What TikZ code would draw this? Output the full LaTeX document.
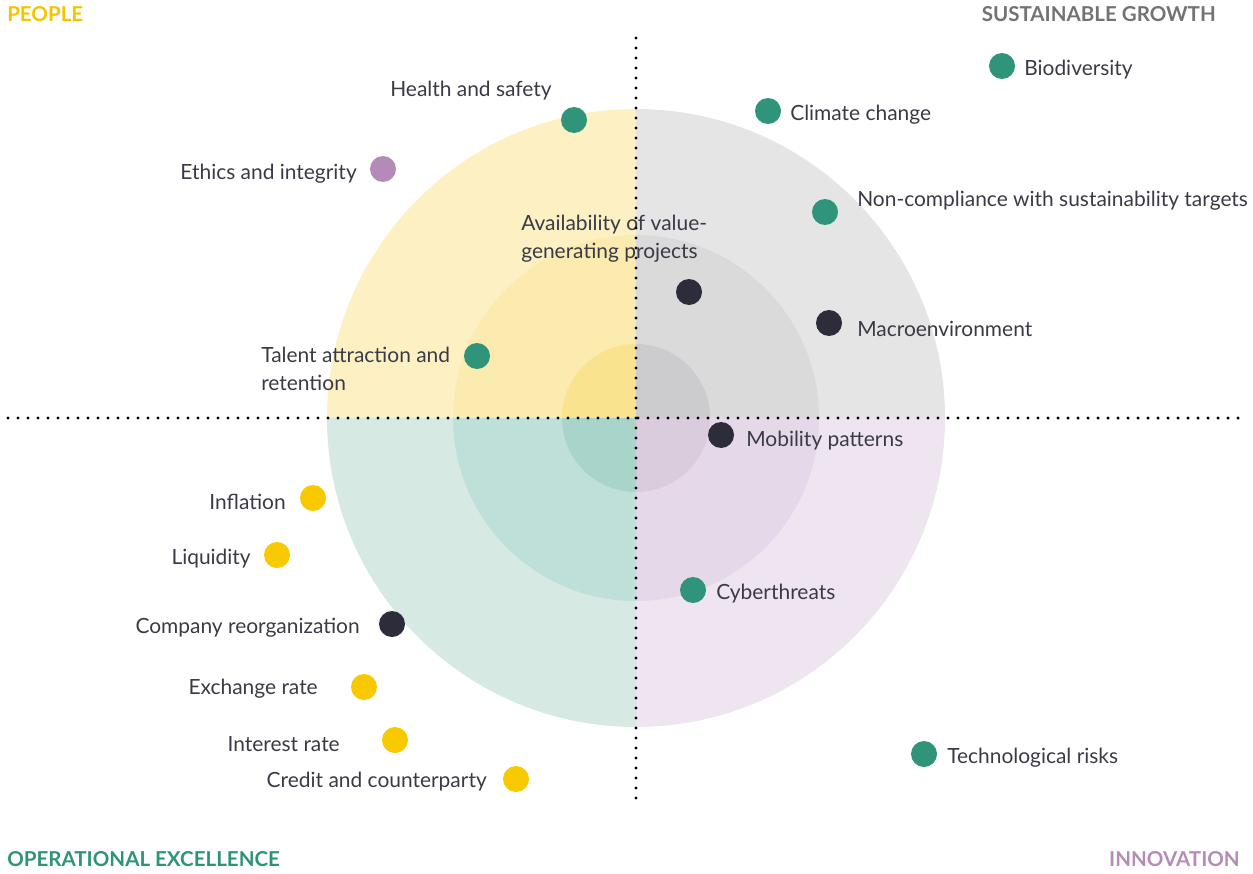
\documentclass[tikz,border=0pt]{standalone}
\usepackage{fontspec}
\setmainfont{Lato}
\usetikzlibrary{positioning}
\definecolor{ytxt}{HTML}{F5C400}
\definecolor{gtxt}{HTML}{737373}
\definecolor{ttxt}{HTML}{2E9478}
\definecolor{ptxt}{HTML}{B48CB8}
\definecolor{dtxt}{HTML}{3A3A46}
\definecolor{dteal}{HTML}{2F9479}
\definecolor{ddark}{HTML}{2C2C3A}
\definecolor{dyel}{HTML}{F8C800}
\definecolor{dpur}{HTML}{B38AB8}
\definecolor{y1}{HTML}{FDF1C4}
\definecolor{y2}{HTML}{FCEBAE}
\definecolor{y3}{HTML}{FAE38E}
\definecolor{g1}{HTML}{E5E5E5}
\definecolor{g2}{HTML}{DADADA}
\definecolor{g3}{HTML}{CCCCCF}
\definecolor{t1}{HTML}{D6EAE3}
\definecolor{t2}{HTML}{BFE0D8}
\definecolor{t3}{HTML}{A8D4C9}
\definecolor{p1}{HTML}{EEE5F0}
\definecolor{p2}{HTML}{E5D8E8}
\definecolor{p3}{HTML}{DACBDD}
\tikzset{
  dot/.style={circle,inner sep=0pt,minimum size=19.5pt},
  lbl/.style={text=dtxt,font=\fontsize{15.7}{21}\selectfont,inner sep=0pt,yshift=-1.2pt},
  corner/.style={font=\fontsize{15.4}{18}\selectfont\bfseries,inner sep=0pt},
  dotline/.style={line width=2.6pt,line cap=round,dash pattern=on 0pt off 7.5pt,draw=black}
}
\begin{document}
\begin{tikzpicture}[x=0.75pt,y=-0.75pt]
\useasboundingbox (0,0) rectangle (1253,874);
\coordinate (c) at (636,418);
% quadrants
\foreach \qx/\qy/\a/\b/\cc in {-1/-1/y1/y2/y3, 1/-1/g1/g2/g3, -1/1/t1/t2/t3, 1/1/p1/p2/p3}{
  \begin{scope}
    \clip (c) rectangle ++(\qx*320,\qy*320);
    \fill[\a] (c) circle[radius=309];
    \fill[\b] (c) circle[radius=183];
    \fill[\cc] (c) circle[radius=74];
  \end{scope}
}
% corner labels
\node[corner,text=ytxt,anchor=west] (people) at (7,14) {PEOPLE};
\node[corner,text=gtxt,anchor=east] (sg) at (1216,14) {SUSTAINABLE GROWTH};
\node[corner,text=ttxt,anchor=west] (oe) at (7,859) {OPERATIONAL EXCELLENCE};
\node[corner,text=ptxt,anchor=east] (inn) at (1240,859) {INNOVATION};
% dots and labels
\node[dot,fill=dteal] (bio) at (1002,66) {};
\node[lbl,anchor=west] (biot) at (1024,68) {Biodiversity};
\node[dot,fill=dteal] (cli) at (768,111) {};
\node[lbl,anchor=west] (clit) at (790,113) {Climate change};
\node[dot,fill=dteal] (hs) at (574,120) {};
\node[lbl,anchor=west] (hst) at (390,89) {Health and safety};
\node[dot,fill=dpur] (eth) at (383,169) {};
\node[lbl,anchor=east] (etht) at (357,172) {Ethics and integrity};
\node[dot,fill=dteal] (nc) at (825,212) {};
\node[lbl,anchor=west] (nct) at (857,199) {Non-compliance with sustainability targets};
\node[lbl,anchor=west,align=left] (avt) at (521,237) {Availability of value-\\generating projects};
\node[dot,fill=ddark] (av) at (689,292) {};
\node[dot,fill=ddark] (mac) at (829,323) {};
\node[lbl,anchor=west] (mact) at (857,327) {Macroenvironment};
\node[dot,fill=dteal] (tal) at (477,356) {};
\node[lbl,anchor=west,align=left] (talt) at (261,367) {Talent attraction and\\retention};
\node[dot,fill=ddark] (mob) at (721,435) {};
\node[lbl,anchor=west] (mobt) at (746,439) {Mobility patterns};
\node[dot,fill=dyel] (inf) at (313,498) {};
\node[lbl,anchor=east] (inft) at (286,500) {Inflation};
\node[dot,fill=dyel] (liq) at (277,555) {};
\node[lbl,anchor=east] (liqt) at (251,557) {Liquidity};
\node[dot,fill=ddark] (cr) at (392,624) {};
\node[lbl,anchor=east] (crt) at (360,626) {Company reorganization};
\node[dot,fill=dteal] (cy) at (693,590) {};
\node[lbl,anchor=west] (cyt) at (716,592) {Cyberthreats};
\node[dot,fill=dyel] (ex) at (364,687) {};
\node[lbl,anchor=east] (ext) at (318,687) {Exchange rate};
\node[dot,fill=dyel] (ir) at (395,740) {};
\node[lbl,anchor=east] (irt) at (340,742) {Interest rate};
\node[dot,fill=dyel] (cc) at (516,779) {};
\node[lbl,anchor=east] (cct) at (487,780) {Credit and counterparty};
\node[dot,fill=dteal] (tr) at (924,754) {};
\node[lbl,anchor=west] (trt) at (947,756) {Technological risks};
% dotted axes
\coordinate (l) at (8,418);
\coordinate (r) at (1245,418);
\coordinate (t) at (636,38);
\coordinate (b) at (636,806);
\draw[dotline] (l) -- (r);
\draw[dotline] (t) -- (b);
\end{tikzpicture}
\end{document}
